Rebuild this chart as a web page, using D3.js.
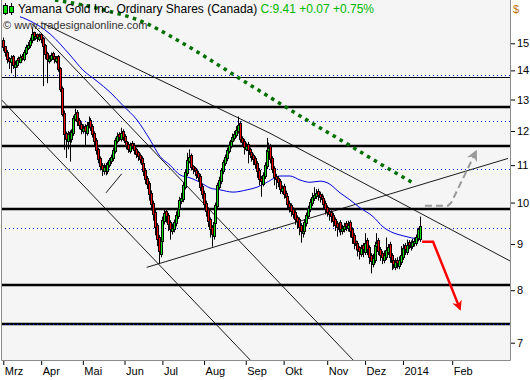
<!DOCTYPE html>
<html>
<head>
<meta charset="utf-8">
<script src="https://cdn.jsdelivr.net/npm/d3@7"></script>
<style>
body { margin: 0; background: #fff; }
svg { display: block; }
text { font-family: "Liberation Sans", Arial, sans-serif; }
</style>
</head>
<body>
<svg id="chart" width="530" height="380"></svg>
<script>
// daily candles, Mar 2013 - mid Jan 2014
const opens = [15.13,14.88,14.69,14.44,14.25,14.51,14.10,14.17,14.44,14.28,
14.54,14.39,14.61,14.80,14.88,15.07,15.42,15.18,15.34,15.14,
15.34,15.19,14.92,14.62,14.32,14.39,14.62,14.54,14.32,14.51,
14.07,13.38,12.57,11.94,11.67,11.97,11.73,11.91,12.35,12.60,
12.34,12.22,11.97,12.16,11.91,12.13,12.34,12.16,11.94,11.74,
11.45,11.20,11.01,10.80,11.01,10.80,10.98,11.08,11.16,11.38,
11.67,11.91,11.73,12.00,11.85,11.71,11.62,11.38,11.65,11.59,
11.45,11.36,11.28,11.20,11.06,10.87,10.65,10.51,10.26,10.00,
9.76,9.44,9.16,8.76,9.04,9.51,9.80,9.69,9.51,9.27,
9.32,9.46,9.64,9.81,10.01,10.06,10.39,10.75,11.08,11.28,
10.98,10.92,10.87,10.79,10.71,10.44,10.26,10.00,9.83,9.58,
9.39,9.15,9.46,9.88,10.39,10.53,10.80,11.03,11.16,11.38,
11.53,11.67,11.76,11.85,11.97,12.25,11.79,11.71,11.44,11.62,
11.45,11.36,11.28,11.20,11.06,10.87,10.65,10.47,10.67,10.94,
11.38,11.56,11.20,10.92,10.71,10.65,10.57,10.27,10.44,10.26,
10.18,10.00,9.93,9.83,9.76,9.63,9.58,9.44,9.22,9.27,
9.46,9.64,9.81,9.96,10.09,10.14,10.31,10.23,10.18,10.13,
10.00,9.88,9.80,9.76,9.69,9.58,9.49,9.32,9.51,9.27,
9.32,9.49,9.34,9.51,9.34,9.20,9.06,9.02,8.92,8.76,
8.97,8.80,9.09,8.92,8.74,8.53,8.62,8.92,9.09,8.88,
8.79,8.62,8.69,8.80,9.00,8.74,8.63,8.47,8.65,8.49,
8.58,8.69,8.97,8.80,9.04,8.90,8.94,8.99,9.01,9.11,
9.10];
const highs = [15.22,14.90,14.74,14.48,14.55,14.56,14.35,14.45,14.50,14.58,
14.60,14.75,14.95,15.05,15.22,15.60,15.45,15.40,15.38,15.38,
15.40,15.24,14.97,14.68,14.55,14.65,14.68,14.60,14.52,14.56,
14.12,13.44,12.64,11.98,12.00,12.02,12.05,12.48,12.70,12.66,
12.40,12.27,12.20,12.21,12.28,12.45,12.40,12.21,11.99,11.79,
11.50,11.25,11.06,11.05,11.06,11.10,11.20,11.30,11.50,11.80,
11.95,11.96,12.10,12.05,11.90,11.76,11.67,11.65,11.70,11.64,
11.50,11.41,11.33,11.25,11.11,10.92,10.70,10.56,10.31,10.05,
9.81,9.49,9.21,9.18,9.65,9.85,9.85,9.74,9.56,9.48,
9.58,9.78,9.95,10.15,10.25,10.52,10.88,11.35,11.45,11.33,
11.00,10.95,10.92,10.84,10.76,10.49,10.31,10.05,9.88,9.63,
9.44,9.58,10.00,10.52,10.68,10.92,11.15,11.30,11.50,11.68,
11.80,11.92,12.00,12.15,12.45,12.30,11.84,11.76,11.65,11.67,
11.50,11.38,11.33,11.25,11.11,10.92,10.70,10.80,11.08,11.79,
11.65,11.61,11.25,10.97,10.76,10.70,10.62,10.45,10.49,10.31,
10.23,10.05,9.98,9.88,9.81,9.68,9.63,9.49,9.40,9.58,
9.75,9.92,10.10,10.25,10.40,10.35,10.36,10.28,10.23,10.18,
10.05,9.93,9.85,9.81,9.74,9.63,9.54,9.52,9.56,9.45,
9.50,9.54,9.55,9.56,9.39,9.25,9.08,9.07,8.95,8.98,
9.02,9.25,9.14,8.97,8.79,8.78,9.05,9.25,9.14,8.93,
8.84,8.85,9.15,9.00,9.05,8.79,8.68,8.68,8.70,8.72,
8.95,9.00,9.02,9.10,9.09,9.08,9.12,9.15,9.22,9.38,
9.65];
const lows = [14.70,14.50,14.25,14.05,13.90,14.05,13.75,14.10,14.20,14.25,
14.35,14.33,14.56,14.74,14.82,15.00,15.10,15.12,15.05,15.08,
15.00,13.45,14.40,13.55,14.25,14.33,14.38,14.25,14.26,13.95,
13.25,12.45,11.44,11.20,11.45,11.10,11.65,11.85,12.30,12.15,
12.05,11.90,11.92,11.55,11.86,12.08,12.00,11.80,11.55,11.30,
11.05,10.85,10.70,10.74,10.72,10.75,10.93,11.03,11.11,11.33,
11.62,11.70,11.68,11.70,11.55,11.45,11.35,11.33,11.45,11.30,
11.20,11.12,11.05,10.90,10.70,10.48,10.35,10.05,9.80,9.55,
9.20,8.95,8.57,8.70,8.99,9.46,9.50,9.30,9.10,9.22,
9.27,9.41,9.59,9.76,9.96,10.01,10.34,10.70,11.05,10.85,
10.75,10.70,10.62,10.55,10.30,10.10,9.85,9.65,9.40,9.15,
8.94,9.10,9.41,9.83,10.34,10.48,10.75,10.98,11.11,11.33,
11.48,11.62,11.71,11.80,11.92,11.65,11.55,11.30,11.40,11.05,
11.20,11.10,11.00,10.90,10.65,10.45,10.15,10.42,10.62,10.89,
11.33,11.05,10.78,10.45,10.35,10.40,10.22,10.22,10.10,10.02,
9.85,9.75,9.65,9.60,9.45,9.35,9.20,9.03,9.15,9.22,
9.41,9.59,9.76,9.91,10.04,10.09,10.05,10.00,9.95,9.85,
9.70,9.65,9.55,9.50,9.40,9.30,9.17,9.27,9.20,9.22,
9.27,9.30,9.29,9.15,9.00,8.88,8.85,8.72,8.65,8.71,
8.70,8.75,8.75,8.55,8.35,8.48,8.57,8.87,8.75,8.62,
8.55,8.57,8.64,8.75,8.58,8.42,8.45,8.42,8.45,8.44,
8.53,8.64,8.75,8.75,8.88,8.85,8.89,8.94,8.96,9.06,
9.05];
const closes = [14.82,14.63,14.38,14.31,14.45,14.16,14.23,14.38,14.34,14.48,
14.45,14.67,14.86,14.94,15.13,15.36,15.24,15.28,15.20,15.28,
15.13,14.86,14.56,14.38,14.45,14.56,14.48,14.38,14.45,14.01,
13.32,12.51,11.88,11.73,11.91,11.79,11.97,12.41,12.54,12.28,
12.16,12.03,12.10,11.97,12.19,12.28,12.10,11.88,11.68,11.39,
11.14,10.95,10.86,10.95,10.86,11.04,11.14,11.22,11.44,11.73,
11.85,11.79,11.94,11.79,11.65,11.56,11.44,11.59,11.53,11.39,
11.30,11.22,11.14,11.00,10.81,10.59,10.45,10.20,9.94,9.70,
9.38,9.10,8.82,9.10,9.57,9.74,9.63,9.45,9.33,9.38,
9.52,9.70,9.87,10.07,10.12,10.45,10.81,11.14,11.22,10.92,
10.86,10.81,10.73,10.65,10.38,10.20,9.94,9.77,9.52,9.33,
9.21,9.52,9.94,10.45,10.59,10.86,11.09,11.22,11.44,11.59,
11.73,11.82,11.91,12.03,12.19,11.73,11.65,11.50,11.56,11.39,
11.30,11.22,11.14,11.00,10.81,10.59,10.53,10.73,11.00,11.44,
11.50,11.14,10.86,10.65,10.59,10.51,10.33,10.38,10.20,10.12,
9.94,9.87,9.77,9.70,9.57,9.52,9.38,9.28,9.33,9.52,
9.70,9.87,10.02,10.15,10.20,10.25,10.17,10.12,10.07,9.94,
9.82,9.74,9.70,9.63,9.52,9.43,9.38,9.45,9.33,9.38,
9.43,9.40,9.45,9.28,9.14,9.00,8.96,8.86,8.82,8.91,
8.86,9.03,8.86,8.68,8.59,8.68,8.98,9.03,8.82,8.73,
8.68,8.75,8.86,8.94,8.68,8.57,8.53,8.59,8.55,8.64,
8.75,8.91,8.86,8.98,8.96,9.00,9.05,9.07,9.17,9.34,
9.41];

// month ticks (bar index where each month starts)
const monthTicks = [0, 20, 42, 64, 84, 106, 128, 148, 171, 191, 211, 237];
const monthLabels = ["Mrz", "Apr", "Mai", "Jun", "Jul", "Aug", "Sep", "Okt", "Nov", "Dez", "2014", "Feb"];
const priceTicks = [7, 8, 9, 10, 11, 12, 13, 14, 15];

// horizontal levels
const thickLevels = [12.77, 11.56, 9.85, 8.11, 7.35];
const thinLevels = [13.76];
const dottedLevels = [13.83, 12.32, 10.88, 9.37, 7.35];

// blue moving average [bar, price]
const maLine = [[8.8,16.05],[13,15.92],[24.7,15.36],[35.2,14.56],[42.1,14.01],[49.5,13.62],
[56.3,13.25],[63.2,12.80],[70.6,12.34],[77.5,11.73],[82.7,11.25],[88,11.00],[93.3,10.73],
[98.6,10.65],[103.9,10.53],[109.1,10.38],[114.4,10.33],[121.3,10.27],[128.7,10.33],
[134,10.40],[139.2,10.53],[146.1,10.70],[151.4,10.70],[156.7,10.59],[161.9,10.53],
[167.2,10.56],[171.4,10.51],[177.8,10.25],[183,10.07],[188.3,9.87],[195.2,9.65],
[200.5,9.40],[205.8,9.26],[211,9.19],[220,9.10]];

// green dotted trend [bar, price]
const greenTrend = [[27.3,16.75],[51.1,16.37],[76.4,15.75],[89.1,15.24],[130.3,13.49],
[161.9,12.28],[180.4,11.65],[197.3,11.09],[217.4,10.48]];

// black trend lines [bar, price]
const trendLines = [
  [[21, 15.78], [140.8, 11.93], [267.5, 8.62]],
  [[-1.7, 13.04], [130.3, 6.70]],
  [[15, 15.78], [184.6, 6.70]],
  [[75.7, 8.48], [266.5, 11.19]],
  [[54.2, 10.25], [62.5, 10.76]]
];

// projections
const redArrow = [[221.1, 9.05], [226.9, 9.05], [241.1, 7.63]];
const grayArrow = [[222.6, 9.92], [234.8, 9.92], [236.5, 10.0], [249.5, 11.38]];

const svg = d3.select("#chart");
const plotLeft = 1, plotRight = 510, plotTop = 0, plotBottom = 360;

const x = d3.scaleLinear().domain([0, 220]).range([3.3, 420]);
const y = d3.scaleLog().domain([7, 15]).range([342.7, 43.3]);

const defs = svg.append("defs");
defs.append("clipPath").attr("id", "clip")
  .append("rect").attr("x", plotLeft).attr("y", plotTop)
  .attr("width", plotRight - plotLeft).attr("height", plotBottom - plotTop);
defs.append("marker").attr("id", "redHead").attr("viewBox", "0 0 10 10")
  .attr("refX", 8).attr("refY", 5).attr("markerWidth", 4).attr("markerHeight", 4)
  .attr("markerUnits", "strokeWidth").attr("orient", "auto")
  .append("path").attr("d", "M0,0L10,5L0,10L3,5Z").attr("fill", "#ff0000");
defs.append("marker").attr("id", "grayHead").attr("viewBox", "0 0 10 10")
  .attr("refX", 8).attr("refY", 5).attr("markerWidth", 5.5).attr("markerHeight", 5.5)
  .attr("markerUnits", "strokeWidth").attr("orient", "auto")
  .append("path").attr("d", "M0,0L10,5L0,10L3,5Z").attr("fill", "#9a9a9a");

// plot background
svg.append("rect").attr("x", plotLeft).attr("y", plotTop)
  .attr("width", plotRight - plotLeft).attr("height", plotBottom - plotTop)
  .attr("fill", "#f5f5f5");

const plot = svg.append("g").attr("clip-path", "url(#clip)");

// horizontal levels
plot.selectAll("line.thick").data(thickLevels).join("line")
  .attr("x1", plotLeft).attr("x2", plotRight)
  .attr("y1", d => Math.round(y(d))).attr("y2", d => Math.round(y(d)))
  .attr("stroke", "#000").attr("stroke-width", 2.5);
plot.selectAll("line.thin").data(thinLevels).join("line")
  .attr("x1", plotLeft).attr("x2", plotRight)
  .attr("y1", d => Math.round(y(d)) + 0.5).attr("y2", d => Math.round(y(d)) + 0.5)
  .attr("stroke", "#000").attr("stroke-width", 1.2);
plot.selectAll("line.dot").data(dottedLevels).join("line")
  .attr("x1", plotLeft).attr("x2", plotRight)
  .attr("y1", d => Math.round(y(d)) + 0.5).attr("y2", d => Math.round(y(d)) + 0.5)
  .attr("stroke", "#0000d0").attr("stroke-width", 1).attr("stroke-dasharray", "1,3");

// trend lines
const line = d3.line().x(d => x(d[0])).y(d => y(d[1]));
plot.selectAll("path.trend").data(trendLines).join("path")
  .attr("d", line).attr("fill", "none").attr("stroke", "#000").attr("stroke-width", 0.9);

// moving average
plot.append("path").datum(maLine)
  .attr("d", d3.line().x(d => x(d[0])).y(d => y(d[1])).curve(d3.curveMonotoneX))
  .attr("fill", "none").attr("stroke", "#0000e0").attr("stroke-width", 1);

// candles: black outline, 1px coloured core
const cg = plot.append("g");
closes.forEach((c, i) => {
  const cx = Math.round(x(i));
  const o = opens[i];
  const yTop = Math.round(y(Math.max(o, c)));
  const yBot = Math.max(Math.round(y(Math.min(o, c))), yTop + 3);
  const g = cg.append("g");
  g.append("line").attr("x1", cx + 0.5).attr("x2", cx + 0.5)
    .attr("y1", y(highs[i])).attr("y2", y(lows[i])).attr("stroke", "#000").attr("stroke-width", 1);
  g.append("rect").attr("x", cx - 1).attr("y", yTop).attr("width", 3).attr("height", yBot - yTop)
    .attr("fill", "#000");
  g.append("rect").attr("x", cx).attr("y", yTop + 1).attr("width", 1).attr("height", yBot - yTop - 2)
    .attr("fill", c >= o ? "#00e000" : "#ff0000");
});

// green dotted trend
plot.append("path").datum(greenTrend)
  .attr("d", d3.line().x(d => x(d[0])).y(d => y(d[1])).curve(d3.curveMonotoneX))
  .attr("fill", "none").attr("stroke", "#007000").attr("stroke-width", 3.5)
  .attr("stroke-dasharray", "3.5,4.5");

// projections
plot.append("path").datum(grayArrow)
  .attr("d", d3.line().x(d => x(d[0])).y(d => y(d[1])))
  .attr("fill", "none").attr("stroke", "#9a9a9a").attr("stroke-width", 2)
  .attr("stroke-dasharray", "7,4").attr("marker-end", "url(#grayHead)");
plot.append("path").datum(redArrow)
  .attr("d", d3.line().x(d => x(d[0])).y(d => y(d[1])))
  .attr("fill", "none").attr("stroke", "#ff0000").attr("stroke-width", 2.5)
  .attr("marker-end", "url(#redHead)");

// frame
svg.append("path")
  .attr("d", `M${plotLeft + 0.5},${plotTop}V${plotBottom + 0.5}H${plotRight + 0.5}V${plotTop}`)
  .attr("fill", "none").attr("stroke", "#8c8c8c").attr("stroke-width", 1);

// price axis
const yAxis = svg.append("g").attr("transform", `translate(${plotRight + 1},0)`)
  .call(d3.axisRight(y).tickValues(priceTicks).tickFormat(d3.format("d")).tickSize(4).tickPadding(2));
yAxis.select(".domain").remove();
yAxis.selectAll("text").attr("font-size", 11).attr("fill", "#000")
  .style("font-family", "'Liberation Sans', Arial, sans-serif");
yAxis.selectAll("line").attr("stroke", "#000");
svg.append("text").attr("x", 513).attr("y", 13).attr("font-size", 11)
  .attr("fill", "#c07000").text("$");

// time axis
const xAxis = svg.append("g").attr("transform", `translate(0,${plotBottom + 1})`)
  .call(d3.axisBottom(x).tickValues(monthTicks).tickFormat((d, i) => monthLabels[i]).tickSize(4));
xAxis.select(".domain").remove();
xAxis.selectAll("line").attr("stroke", "#000");
xAxis.selectAll("text").attr("text-anchor", "start").attr("x", 1).attr("y", 6)
  .attr("font-size", 11).attr("fill", "#000")
  .style("font-family", "'Liberation Sans', Arial, sans-serif");

// header
const icon = svg.append("g");
icon.append("line").attr("x1", 5.5).attr("x2", 5.5).attr("y1", 3).attr("y2", 15).attr("stroke", "#000");
icon.append("rect").attr("x", 3.5).attr("y", 5.5).attr("width", 4).attr("height", 8)
  .attr("fill", "#00e000").attr("stroke", "#000");
icon.append("line").attr("x1", 11.5).attr("x2", 11.5).attr("y1", 3).attr("y2", 15).attr("stroke", "#000");
icon.append("rect").attr("x", 9.5).attr("y", 6.5).attr("width", 4).attr("height", 6)
  .attr("fill", "#00e000").attr("stroke", "#000");

const title = svg.append("text").attr("x", 18).attr("y", 13).attr("font-size", 12);
title.append("tspan").attr("fill", "#000").text("Yamana Gold Inc. Ordinary Shares (Canada) ");
title.append("tspan").attr("fill", "#00b800").text("C:9.41 +0.07 +0.75%");
svg.append("text").attr("x", 3).attr("y", 29).attr("font-size", 11).attr("fill", "#333")
  .text("© www.tradesignalonline.com");
</script>
</body>
</html>
